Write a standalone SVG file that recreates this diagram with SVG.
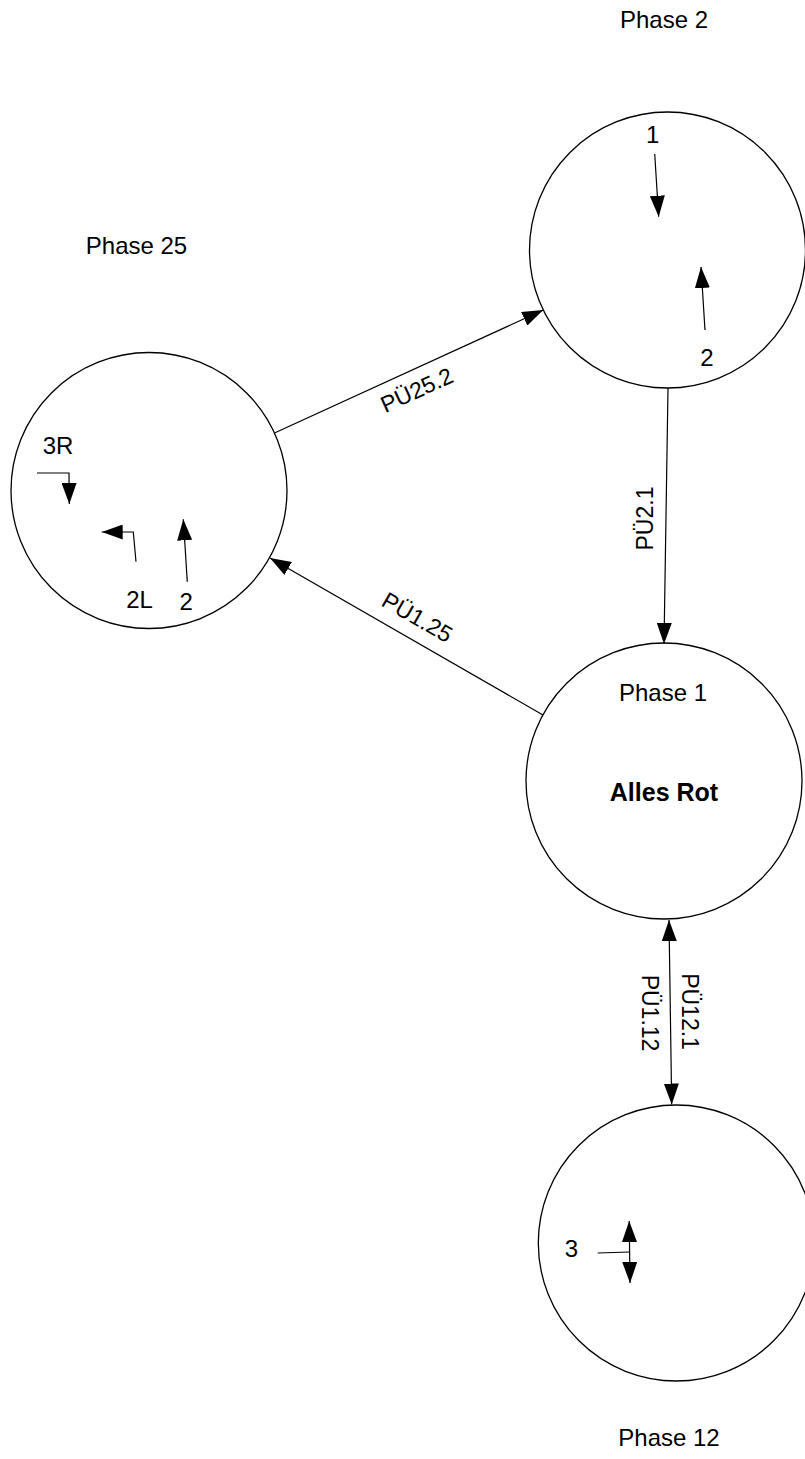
<svg xmlns="http://www.w3.org/2000/svg" width="805" height="1459" viewBox="0 0 805 1459">
<style>
.node{fill:#fff;stroke:#000;stroke-width:1.3}
.ln{fill:none;stroke:#000;stroke-width:1.2}
.t{font-family:"Liberation Sans",Arial,sans-serif;font-size:24px;fill:#000;text-anchor:middle}
.lbl{font-family:"Liberation Sans",Arial,sans-serif;font-size:23px;fill:#000;text-anchor:middle}
.b{font-weight:bold;font-size:25px}
</style>
<defs>
<marker id="ah" viewBox="0 0 21 15" refX="21" refY="7.5" markerWidth="21" markerHeight="15" markerUnits="userSpaceOnUse" orient="auto-start-reverse">
<path d="M0,0 L21,7.5 L0,15 z" fill="#000"/>
</marker>
</defs>
<rect width="805" height="1459" fill="#fff"/>

<g id="phase2">
<circle class="node" cx="667.5" cy="250" r="138"/>
<text class="t" x="664" y="28">Phase 2</text>
<text class="t" x="652.7" y="143.3">1</text>
<line class="ln" x1="654.7" y1="154" x2="658.7" y2="216.7" marker-end="url(#ah)"/>
<text class="t" x="707" y="365.7">2</text>
<line class="ln" x1="705" y1="330" x2="701" y2="267" marker-end="url(#ah)"/>
</g>

<g id="phase25">
<circle class="node" cx="149" cy="490.5" r="138"/>
<text class="t" x="136.5" y="254">Phase 25</text>
<text class="t" x="58" y="454">3R</text>
<polyline class="ln" points="37,473 69,473 69.3,504" marker-end="url(#ah)"/>
<text class="t" x="139.5" y="608.3">2L</text>
<polyline class="ln" points="136,561.7 133.3,532 101.7,532" marker-end="url(#ah)"/>
<text class="t" x="186.3" y="610">2</text>
<line class="ln" x1="187.3" y1="581.7" x2="183.3" y2="519.3" marker-end="url(#ah)"/>
</g>

<g id="phase1">
<circle class="node" cx="664" cy="781" r="138"/>
<text class="t" x="663" y="701">Phase 1</text>
<text class="t b" x="664" y="801">Alles Rot</text>
</g>

<g id="phase12">
<circle class="node" cx="676.3" cy="1243" r="138"/>
<text class="t" x="669" y="1446">Phase 12</text>
<text class="t" x="571.5" y="1256.7">3</text>
<polyline class="ln" points="597.7,1253 629.5,1252"/>
<line class="ln" x1="629.2" y1="1221" x2="630" y2="1283" marker-start="url(#ah)" marker-end="url(#ah)"/>
</g>

<g id="connectors">
<line class="ln" x1="275" y1="432.7" x2="543.3" y2="310" marker-end="url(#ah)"/>
<text class="lbl" transform="translate(416.7,390) rotate(-24.57)" x="0" y="8">PÜ25.2</text>
<line class="ln" x1="543" y1="715" x2="270" y2="558" marker-end="url(#ah)"/>
<text class="lbl" transform="translate(417.3,617.3) rotate(29.9)" x="0" y="8">PÜ1.25</text>
<line class="ln" x1="668" y1="388" x2="664" y2="644" marker-end="url(#ah)"/>
<text class="lbl" transform="translate(644.5,518.5) rotate(-90)" x="0" y="8">PÜ2.1</text>
<line class="ln" x1="669" y1="920" x2="671.7" y2="1104.5" marker-start="url(#ah)" marker-end="url(#ah)"/>
<text class="lbl" transform="translate(690,1011.5) rotate(90)" x="0" y="8">PÜ12.1</text>
<text class="lbl" transform="translate(650,1013) rotate(90)" x="0" y="8">PÜ1.12</text>
</g>
</svg>
